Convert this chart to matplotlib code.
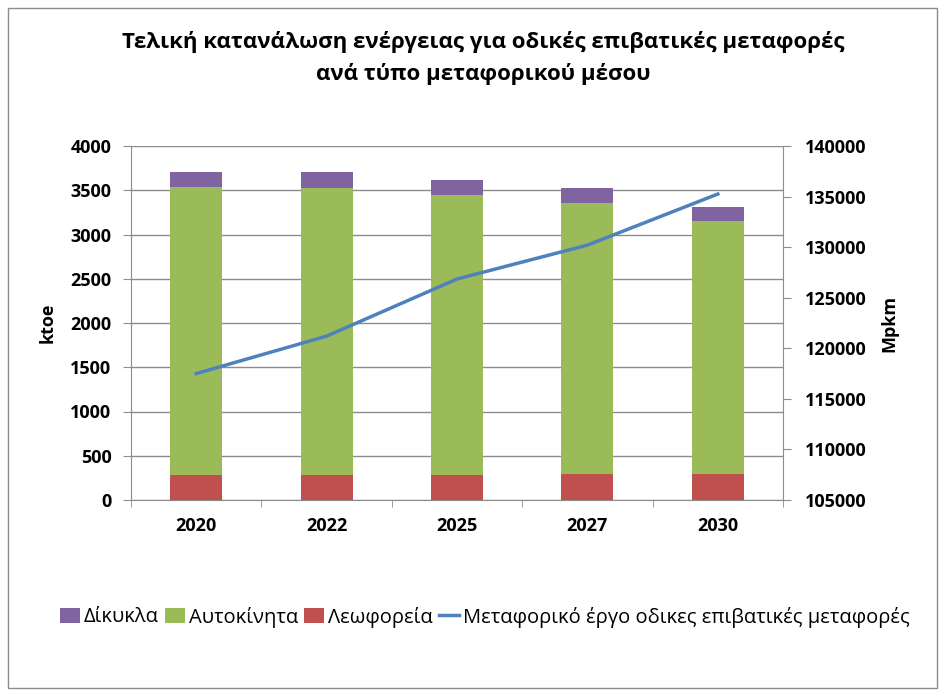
import matplotlib.pyplot as plt
import numpy as np
from matplotlib.patches import Rectangle

years = ["2020", "2022", "2025", "2027", "2030"]
buses = [280, 280, 285, 290, 295]          # Λεωφορεία
cars = [3255, 3245, 3160, 3065, 2860]      # Αυτοκίνητα
twowheel = [175, 180, 175, 170, 160]       # Δίκυκλα
transport_work = [117500, 121200, 126850, 130200, 135250]  # Mpkm

plt.rcParams['font.family'] = ['Open Sans', 'DejaVu Sans']

fig = plt.figure(figsize=(9.45, 6.94), dpi=100)
ax = fig.add_axes([131 / 945, 1 - 500 / 694, (783 - 131) / 945, (500 - 146) / 694])

x = np.arange(len(years))
w = 0.4
bottoms2 = np.array(buses) + np.array(cars)
b1 = ax.bar(x, buses, w, color="#C0504D", zorder=3, label="Λεωφορεία")
b2 = ax.bar(x, cars, w, bottom=buses, color="#9BBB59", zorder=3, label="Αυτοκίνητα")
b3 = ax.bar(x, twowheel, w, bottom=bottoms2, color="#8064A2", zorder=3, label="Δίκυκλα")

ax.set_xlim(-0.5, len(years) - 0.5)
ax.set_ylim(0, 4000)
ax.set_yticks(np.arange(0, 4001, 500))
ax.yaxis.grid(True, color="#8c8c8c", linewidth=1, zorder=0)
ax.set_xticks(x)
ax.set_xticklabels(years, fontsize=13, fontweight="bold")
ax.set_xticks(np.arange(-0.5, len(years)), minor=True)
ax.tick_params(axis="x", which="major", length=0, pad=12)
ax.tick_params(axis="x", which="minor", length=5, color="#8c8c8c")
ax.tick_params(axis="y", length=6, color="#8c8c8c", labelsize=13, pad=8)
for lab in ax.get_yticklabels():
    lab.set_fontweight("bold")
for side in ["top", "right"]:
    ax.spines[side].set_visible(False)
for side in ["left", "bottom"]:
    ax.spines[side].set_color("#8c8c8c")
ax.set_ylabel("ktoe", fontsize=13, fontweight="bold", labelpad=10)

ax2 = ax.twinx()
line, = ax2.plot(x, transport_work, color="#4F81BD", linewidth=2.5, zorder=4,
                 label="Μεταφορικό έργο οδικες επιβατικές μεταφορές")
ax2.set_ylim(105000, 140000)
ax2.set_yticks(np.arange(105000, 140001, 5000))
ax2.tick_params(axis="y", length=6, color="#8c8c8c", labelsize=13, pad=10)
for lab in ax2.get_yticklabels():
    lab.set_fontweight("bold")
for side in ["top", "left", "bottom"]:
    ax2.spines[side].set_visible(False)
ax2.spines["right"].set_color("#8c8c8c")
ax2.set_ylabel("Mpkm", fontsize=13, fontweight="bold", labelpad=10)

fig.text(0.511, 1 - 42 / 694, "Τελική κατανάλωση ενέργειας για οδικές επιβατικές μεταφορές",
         ha="center", va="center", fontsize=16, fontweight="bold")
fig.text(0.511, 1 - 74 / 694, "ανά τύπο μεταφορικού μέσου",
         ha="center", va="center", fontsize=16, fontweight="bold")

fig.legend([b3, b2, b1, line],
           ["Δίκυκλα", "Αυτοκίνητα", "Λεωφορεία", "Μεταφορικό έργο οδικες επιβατικές μεταφορές"],
           loc="center", bbox_to_anchor=(0.513, 1 - 617 / 694), ncol=4, frameon=False,
           fontsize=14.5, handlelength=1.0, handleheight=0.8, handletextpad=0.2,
           columnspacing=0.3)

fig.patches.append(Rectangle((8 / 945, 6 / 694), 929 / 945, 680 / 694, transform=fig.transFigure,
                             fill=False, edgecolor="#8c8c8c", linewidth=1))

fig.savefig("out.png", dpi=100)
